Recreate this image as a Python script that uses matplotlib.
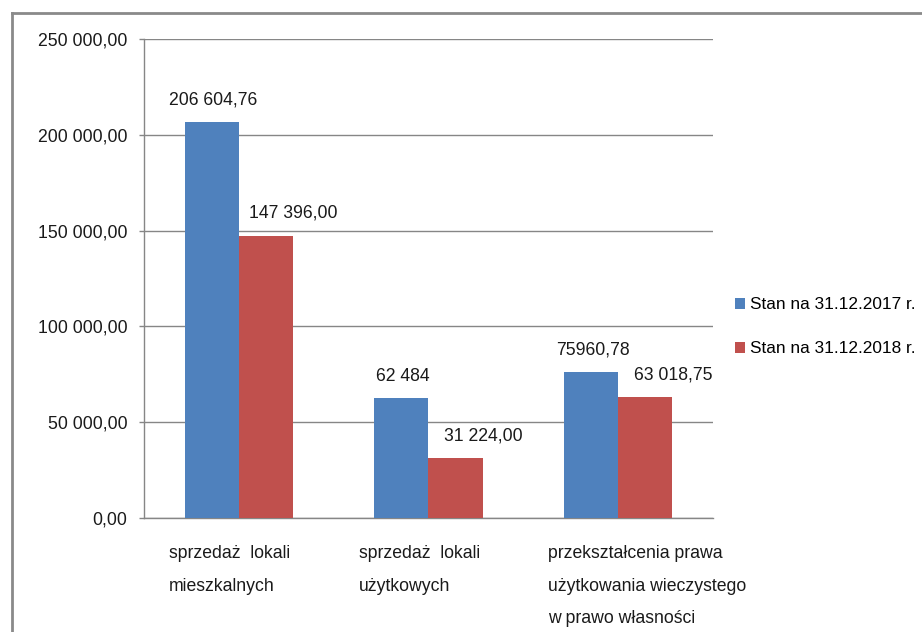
import numpy as np
import matplotlib
matplotlib.use("Agg")
import matplotlib.pyplot as plt
from matplotlib.lines import Line2D

plt.rcParams['font.family'] = ['Liberation Sans', 'DejaVu Sans']

categories = ["sprzedaż  lokali\nmieszkalnych",
              "sprzedaż  lokali\nużytkowych",
              "przekształcenia prawa\nużytkowania wieczystego\nw prawo własności"]
series_names = ["Stan na 31.12.2017 r.", "Stan na 31.12.2018 r."]
values_2017 = [206604.76, 62484, 75960.78]
values_2018 = [147396.00, 31224.00, 63018.75]
labels_2017 = ["206 604,76", "62 484", "75960,78"]
labels_2018 = ["147 396,00", "31 224,00", "63 018,75"]
yticks = [0, 50000, 100000, 150000, 200000, 250000]
ytick_labels = ["0,00", "50 000,00", "100 000,00", "150 000,00", "200 000,00", "250 000,00"]

BLUE = "#4F81BD"
RED = "#C0504D"
GRID = "#868686"
TXT = "#1a1a1a"
FS = 12.7

fig = plt.figure(figsize=(9.22, 6.32), dpi=100)
ax = fig.add_axes([0.1562, 0.1804, 0.6171, 0.7579])

x = np.arange(len(categories))
w = 0.285
b1 = ax.bar(x - w / 2, values_2017, w, color=BLUE, label=series_names[0], zorder=3)
b2 = ax.bar(x + w / 2, values_2018, w, color=RED, label=series_names[1], zorder=3)

# etykiety wartości nad słupkami
for rect, lab in zip(b1, labels_2017):
    ax.annotate(lab, (rect.get_x() + rect.get_width() / 2, rect.get_height()),
                xytext=(1, 16), textcoords="offset points",
                ha="center", va="center", fontsize=FS, color=TXT)
for rect, lab in zip(b2, labels_2018):
    ax.annotate(lab, (rect.get_x() + rect.get_width() / 2, rect.get_height()),
                xytext=(20, 16), textcoords="offset points",
                ha="center", va="center", fontsize=FS, color=TXT)

ax.set_xlim(-0.5, len(categories) - 0.5)
ax.set_ylim(0, 250000)
ax.set_yticks(yticks)
ax.set_yticklabels(ytick_labels, fontsize=FS, color=TXT)
ax.tick_params(axis="y", length=3.6, width=1, color=GRID, pad=8.5)
ax.set_xticks([])
ax.yaxis.grid(True, color=GRID, linewidth=1, zorder=0)
for s in ["top", "right"]:
    ax.spines[s].set_visible(False)
for s in ["left", "bottom"]:
    ax.spines[s].set_color(GRID)
    ax.spines[s].set_linewidth(1)

# podpisy kategorii
for i, lab in enumerate(categories):
    ax.annotate(lab, (i - 0.5, 0), xycoords=("data", "axes fraction"),
                xytext=(18, -19.5), textcoords="offset points",
                ha="left", va="top", fontsize=FS, linespacing=2.2, color=TXT)

fig.legend(handles=[b1, b2], labels=series_names, loc="center left",
           bbox_to_anchor=(0.797, 0.483), frameon=False, fontsize=12.4,
           handlelength=0.6, handleheight=0.6, handletextpad=0.3,
           labelspacing=1.7, borderaxespad=0, borderpad=0)

fig.add_artist(Line2D([12 / 922, 12 / 922], [0, 1 - 13 / 632], color="#8a8a8a", linewidth=2))
fig.add_artist(Line2D([12 / 922, 1], [1 - 13 / 632, 1 - 13 / 632], color="#8a8a8a", linewidth=2))

fig.savefig("out.png", dpi=100)
